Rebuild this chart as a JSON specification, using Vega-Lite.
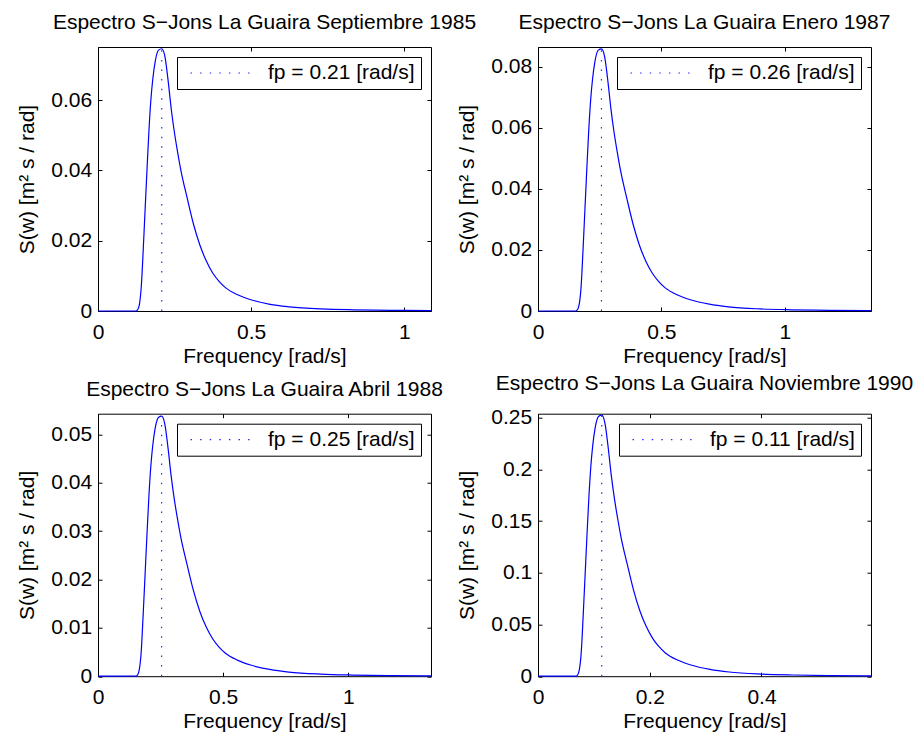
{
  "$schema": "https://vega.github.io/schema/vega-lite/v6.json",
  "background": "white",
  "padding": {"left": 16, "top": 11, "right": 0, "bottom": 0},
  "bounds": "flush",
  "columns": 2,
  "spacing": {"row": 102.7, "column": 107},
  "datasets": {
    "p1": [
      {"f":0,"s":0},{"f":0.1227,"s":0},{"f":0.129,"s":0.0003},{"f":0.1352,"s":0.0019},{"f":0.1414,"s":0.0071},{"f":0.1477,"s":0.0175},{"f":0.1539,"s":0.0291},{"f":0.1602,"s":0.0407},{"f":0.1664,"s":0.0515},{"f":0.1726,"s":0.0601},{"f":0.1789,"s":0.066},{"f":0.1872,"s":0.0712},{"f":0.1976,"s":0.0742},{"f":0.208,"s":0.0746},{"f":0.2184,"s":0.0724},{"f":0.2288,"s":0.0656},{"f":0.2392,"s":0.0574},{"f":0.2496,"s":0.0507},{"f":0.26,"s":0.04513},{"f":0.2704,"s":0.04006},{"f":0.2912,"s":0.0321},{"f":0.312,"s":0.0246},{"f":0.3328,"s":0.0187},{"f":0.3536,"s":0.0142},{"f":0.3744,"s":0.0108},{"f":0.3952,"s":0.00843},{"f":0.416,"s":0.00664},{"f":0.4576,"s":0.00455},{"f":0.4992,"s":0.0032},{"f":0.5616,"s":0.0019},{"f":0.624,"s":0.0012},{"f":0.728,"s":0.0006},{"f":0.832,"s":0.00034},{"f":0.9568,"s":0.00019},{"f":1.087,"s":0.0001}
    ],
    "p2": [
      {"f":0,"s":0},{"f":0.1516,"s":0},{"f":0.1593,"s":0.00034},{"f":0.1671,"s":0.00223},{"f":0.1748,"s":0.00815},{"f":0.1825,"s":0.02016},{"f":0.1902,"s":0.03346},{"f":0.1979,"s":0.04676},{"f":0.2056,"s":0.0592},{"f":0.2133,"s":0.06907},{"f":0.221,"s":0.07593},{"f":0.2313,"s":0.08194},{"f":0.2442,"s":0.08537},{"f":0.257,"s":0.0858},{"f":0.2699,"s":0.08323},{"f":0.2827,"s":0.0755},{"f":0.2956,"s":0.06607},{"f":0.3084,"s":0.05834},{"f":0.3213,"s":0.05191},{"f":0.3341,"s":0.04607},{"f":0.3598,"s":0.03689},{"f":0.3855,"s":0.02831},{"f":0.4112,"s":0.02145},{"f":0.4369,"s":0.0163},{"f":0.4626,"s":0.01244},{"f":0.4883,"s":0.0097},{"f":0.514,"s":0.00764},{"f":0.5654,"s":0.00523},{"f":0.6168,"s":0.00369},{"f":0.6939,"s":0.00223},{"f":0.771,"s":0.00137},{"f":0.8995,"s":0.00069},{"f":1.028,"s":0.00039},{"f":1.1822,"s":0.00021},{"f":1.349,"s":0.00012}
    ],
    "p3": [
      {"f":0,"s":0},{"f":0.1499,"s":0},{"f":0.1575,"s":0.00022},{"f":0.1651,"s":0.0014},{"f":0.1727,"s":0.00511},{"f":0.1803,"s":0.01264},{"f":0.188,"s":0.02098},{"f":0.1956,"s":0.02932},{"f":0.2032,"s":0.03712},{"f":0.2108,"s":0.04331},{"f":0.2184,"s":0.04761},{"f":0.2286,"s":0.05138},{"f":0.2413,"s":0.05353},{"f":0.254,"s":0.0538},{"f":0.2667,"s":0.05219},{"f":0.2794,"s":0.04734},{"f":0.2921,"s":0.04143},{"f":0.3048,"s":0.03658},{"f":0.3175,"s":0.03255},{"f":0.3302,"s":0.02889},{"f":0.3556,"s":0.02313},{"f":0.381,"s":0.01775},{"f":0.4064,"s":0.01345},{"f":0.4318,"s":0.01022},{"f":0.4572,"s":0.0078},{"f":0.4826,"s":0.00608},{"f":0.508,"s":0.00479},{"f":0.5588,"s":0.00328},{"f":0.6096,"s":0.00231},{"f":0.6858,"s":0.0014},{"f":0.762,"s":0.00086},{"f":0.889,"s":0.00043},{"f":1.016,"s":0.00024},{"f":1.1684,"s":0.00013},{"f":1.33,"s":0.00008}
    ],
    "p4": [
      {"f":0,"s":0},{"f":0.06726,"s":0},{"f":0.07068,"s":0.00101},{"f":0.0741,"s":0.00657},{"f":0.07752,"s":0.02399},{"f":0.08094,"s":0.05934},{"f":0.08436,"s":0.09848},{"f":0.08778,"s":0.13761},{"f":0.0912,"s":0.17423},{"f":0.09462,"s":0.20326},{"f":0.09804,"s":0.22346},{"f":0.1026,"s":0.24114},{"f":0.1083,"s":0.25124},{"f":0.114,"s":0.2525},{"f":0.1197,"s":0.24493},{"f":0.1254,"s":0.2222},{"f":0.1311,"s":0.19443},{"f":0.1368,"s":0.1717},{"f":0.1425,"s":0.15276},{"f":0.1482,"s":0.13559},{"f":0.1596,"s":0.10858},{"f":0.171,"s":0.08333},{"f":0.1824,"s":0.06313},{"f":0.1938,"s":0.04798},{"f":0.2052,"s":0.03661},{"f":0.2166,"s":0.02853},{"f":0.228,"s":0.02247},{"f":0.2508,"s":0.0154},{"f":0.2736,"s":0.01086},{"f":0.3078,"s":0.00657},{"f":0.342,"s":0.00404},{"f":0.399,"s":0.00202},{"f":0.456,"s":0.00114},{"f":0.5244,"s":0.00063},{"f":0.596,"s":0.0004}
    ],
    "r1": [{"f":0.208,"s0":0,"s1":0.0746,"label":"fp = 0.21 [rad/s]"}],
    "r2": [{"f":0.257,"s0":0,"s1":0.0858,"label":"fp = 0.26 [rad/s]"}],
    "r3": [{"f":0.254,"s0":0,"s1":0.0538,"label":"fp = 0.25 [rad/s]"}],
    "r4": [{"f":0.114,"s0":0,"s1":0.2525,"label":"fp = 0.11 [rad/s]"}]
  },
  "concat": [
    {
      "width": 333, "height": 264,
      "title": {"text": "Espectro S−Jons La Guaira Septiembre 1985"},
      "layer": [
        {"data": {"name": "p1"}, "mark": {"type": "line", "color": "#0000ff", "strokeWidth": 1.2, "interpolate": "monotone"},
         "encoding": {
           "x": {"field": "f", "type": "quantitative", "scale": {"domain": [0, 1.087], "nice": false, "zero": false}, "axis": {"orient": "bottom", "values": [0, 0.5, 1], "format": "~g", "title": "Frequency [rad/s]"}},
           "y": {"field": "s", "type": "quantitative", "scale": {"domain": [0, 0.0751], "nice": false, "zero": false}, "axis": {"orient": "left", "values": [0, 0.02, 0.04, 0.06], "format": "~g", "title": "S(w) [m² s / rad]"}}
         }},
        {"data": {"name": "r1"}, "mark": {"type": "rule", "strokeWidth": 1.2, "color": "#2b2bff"},
         "encoding": {
           "x": {"field": "f", "type": "quantitative", "axis": {"orient": "top", "values": [0, 0.5, 1], "labels": false, "title": null}},
           "y": {"field": "s0", "type": "quantitative", "axis": {"orient": "right", "values": [0, 0.02, 0.04, 0.06], "labels": false, "title": null}},
           "y2": {"field": "s1"},
           "color": {"field": "label", "type": "nominal", "scale": {"range": ["#2b2bff"]}, "legend": {"title": null}},
           "strokeDash": {"field": "label", "type": "nominal", "scale": {"range": [[1.5, 8.1]]}, "legend": {"title": null}}
         }}
      ],
      "resolve": {"axis": {"x": "independent", "y": "independent"}}
    },
    {
      "width": 333, "height": 264,
      "title": {"text": "Espectro S−Jons La Guaira Enero 1987"},
      "layer": [
        {"data": {"name": "p2"}, "mark": {"type": "line", "color": "#0000ff", "strokeWidth": 1.2, "interpolate": "monotone"},
         "encoding": {
           "x": {"field": "f", "type": "quantitative", "scale": {"domain": [0, 1.349], "nice": false, "zero": false}, "axis": {"orient": "bottom", "values": [0, 0.5, 1], "format": "~g", "title": "Frequency [rad/s]"}},
           "y": {"field": "s", "type": "quantitative", "scale": {"domain": [0, 0.0864], "nice": false, "zero": false}, "axis": {"orient": "left", "values": [0, 0.02, 0.04, 0.06, 0.08], "format": "~g", "title": "S(w) [m² s / rad]"}}
         }},
        {"data": {"name": "r2"}, "mark": {"type": "rule", "strokeWidth": 1.2, "color": "#2b2bff"},
         "encoding": {
           "x": {"field": "f", "type": "quantitative", "axis": {"orient": "top", "values": [0, 0.5, 1], "labels": false, "title": null}},
           "y": {"field": "s0", "type": "quantitative", "axis": {"orient": "right", "values": [0, 0.02, 0.04, 0.06, 0.08], "labels": false, "title": null}},
           "y2": {"field": "s1"},
           "color": {"field": "label", "type": "nominal", "scale": {"range": ["#2b2bff"]}, "legend": {"title": null}},
           "strokeDash": {"field": "label", "type": "nominal", "scale": {"range": [[1.5, 8.1]]}, "legend": {"title": null}}
         }}
      ],
      "resolve": {"axis": {"x": "independent", "y": "independent"}}
    },
    {
      "width": 333, "height": 262.5,
      "title": {"text": "Espectro S−Jons La Guaira Abril 1988"},
      "layer": [
        {"data": {"name": "p3"}, "mark": {"type": "line", "color": "#0000ff", "strokeWidth": 1.2, "interpolate": "monotone"},
         "encoding": {
           "x": {"field": "f", "type": "quantitative", "scale": {"domain": [0, 1.33], "nice": false, "zero": false}, "axis": {"orient": "bottom", "values": [0, 0.5, 1], "format": "~g", "title": "Frequency [rad/s]"}},
           "y": {"field": "s", "type": "quantitative", "scale": {"domain": [0, 0.0543], "nice": false, "zero": false}, "axis": {"orient": "left", "values": [0, 0.01, 0.02, 0.03, 0.04, 0.05], "format": "~g", "title": "S(w) [m² s / rad]"}}
         }},
        {"data": {"name": "r3"}, "mark": {"type": "rule", "strokeWidth": 1.2, "color": "#2b2bff"},
         "encoding": {
           "x": {"field": "f", "type": "quantitative", "axis": {"orient": "top", "values": [0, 0.5, 1], "labels": false, "title": null}},
           "y": {"field": "s0", "type": "quantitative", "axis": {"orient": "right", "values": [0, 0.01, 0.02, 0.03, 0.04, 0.05], "labels": false, "title": null}},
           "y2": {"field": "s1"},
           "color": {"field": "label", "type": "nominal", "scale": {"range": ["#2b2bff"]}, "legend": {"title": null}},
           "strokeDash": {"field": "label", "type": "nominal", "scale": {"range": [[1.5, 8.1]]}, "legend": {"title": null}}
         }}
      ],
      "resolve": {"axis": {"x": "independent", "y": "independent"}}
    },
    {
      "width": 333, "height": 262.5,
      "title": {"text": "Espectro S−Jons La Guaira Noviembre 1990"},
      "layer": [
        {"data": {"name": "p4"}, "mark": {"type": "line", "color": "#0000ff", "strokeWidth": 1.2, "interpolate": "monotone"},
         "encoding": {
           "x": {"field": "f", "type": "quantitative", "scale": {"domain": [0, 0.596], "nice": false, "zero": false}, "axis": {"orient": "bottom", "values": [0, 0.2, 0.4], "format": "~g", "title": "Frequency [rad/s]"}},
           "y": {"field": "s", "type": "quantitative", "scale": {"domain": [0, 0.2539], "nice": false, "zero": false}, "axis": {"orient": "left", "values": [0, 0.05, 0.1, 0.15, 0.2, 0.25], "format": "~g", "title": "S(w) [m² s / rad]"}}
         }},
        {"data": {"name": "r4"}, "mark": {"type": "rule", "strokeWidth": 1.2, "color": "#2b2bff"},
         "encoding": {
           "x": {"field": "f", "type": "quantitative", "axis": {"orient": "top", "values": [0, 0.2, 0.4], "labels": false, "title": null}},
           "y": {"field": "s0", "type": "quantitative", "axis": {"orient": "right", "values": [0, 0.05, 0.1, 0.15, 0.2, 0.25], "labels": false, "title": null}},
           "y2": {"field": "s1"},
           "color": {"field": "label", "type": "nominal", "scale": {"range": ["#2b2bff"]}, "legend": {"title": null}},
           "strokeDash": {"field": "label", "type": "nominal", "scale": {"range": [[1.5, 8.1]]}, "legend": {"title": null}}
         }}
      ],
      "resolve": {"axis": {"x": "independent", "y": "independent"}}
    }
  ],
  "resolve": {
    "scale": {"color": "independent", "strokeDash": "independent"},
    "legend": {"color": "independent", "strokeDash": "independent"}
  },
  "config": {
    "font": "Liberation Sans",
    "view": {"stroke": "black", "strokeWidth": 1},
    "axis": {
      "domain": false, "grid": false, "ticks": true, "tickSize": -4, "tickColor": "black", "tickWidth": 1, "labelFlush": false,
      "labelFont": "Liberation Sans", "labelFontSize": 21, "labelColor": "black",
      "titleFont": "Liberation Sans", "titleFontSize": 21, "titleFontWeight": "normal", "titleColor": "black"
    },
    "axisBottom": {"labelPadding": 14, "titlePadding": 3},
    "axisLeft": {"labelPadding": 10.3, "titlePadding": 13},
    "title": {"font": "Liberation Sans", "fontSize": 21, "fontWeight": "normal", "color": "black", "frame": "group", "anchor": "middle", "baseline": "alphabetic", "offset": 13},
    "legend": {
      "orient": "top-right", "offset": 10, "padding": 5.5, "clipHeight": 21,
      "strokeColor": "black", "fillColor": "white",
      "symbolType": "stroke", "symbolSize": 3600, "symbolStrokeWidth": 1.2, "symbolOffset": 7,
      "labelFont": "Liberation Sans", "labelFontSize": 21, "labelColor": "black", "labelOffset": 16.5, "labelLimit": 0
    }
  }
}
